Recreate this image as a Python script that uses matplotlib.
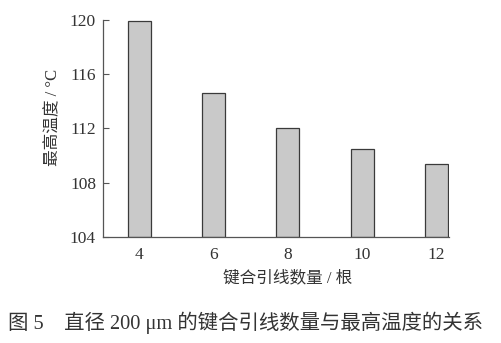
import numpy as np
import matplotlib.pyplot as plt

# data
wire_count = ['4', '6', '8', '10', '12']
max_temp = [119.9, 114.6, 112.0, 110.5, 109.4]
y_ticks = [104, 108, 112, 116, 120]

num_font = 'Liberation Serif'
mixed_font = ['Liberation Serif', 'Noto Sans CJK SC', 'DejaVu Sans']

fig = plt.figure(figsize=(5.01, 3.43), dpi=100)
ax = fig.add_axes([0.2056, 0.309, 0.69, 0.6336])

x = np.arange(len(wire_count))
ax.bar(x, [t - 104 for t in max_temp], bottom=104, width=0.31,
       color='#c9c9c9', edgecolor='#3a3a3a', linewidth=0.9)

ax.set_xlim(-0.49, 4.165)
ax.set_ylim(104, 120)
ax.set_yticks(y_ticks)
ax.set_xticks(x)
ax.set_xticklabels(wire_count)

for s in ['top', 'right']:
    ax.spines[s].set_visible(False)
for s in ['left', 'bottom']:
    ax.spines[s].set_color('#555555')
    ax.spines[s].set_linewidth(0.9)

ax.tick_params(axis='y', direction='in', length=4, width=0.8, color='#555555',
               labelsize=12.5, labelcolor='#333333', pad=5)
ax.tick_params(axis='x', length=0, labelsize=12.5, labelcolor='#333333', pad=7)
for lab in ax.get_xticklabels() + ax.get_yticklabels():
    lab.set_fontfamily(num_font)

fig.text(288 / 501, 1 - 278 / 343, '键合引线数量 / 根', ha='center', va='center',
         fontsize=12, family=mixed_font, color='#333333')
fig.text(53 / 501, 1 - 117 / 343, '最高温度 / °C', ha='center', va='center',
         rotation=90, fontsize=12, family=mixed_font, color='#333333')
fig.text(246 / 501, 1 - 323 / 343, '图 5    直径 200 μm 的键合引线数量与最高温度的关系',
         ha='center', va='center', fontsize=14.7, family=mixed_font, color='#333333')

fig.savefig('out.png', dpi=100)
